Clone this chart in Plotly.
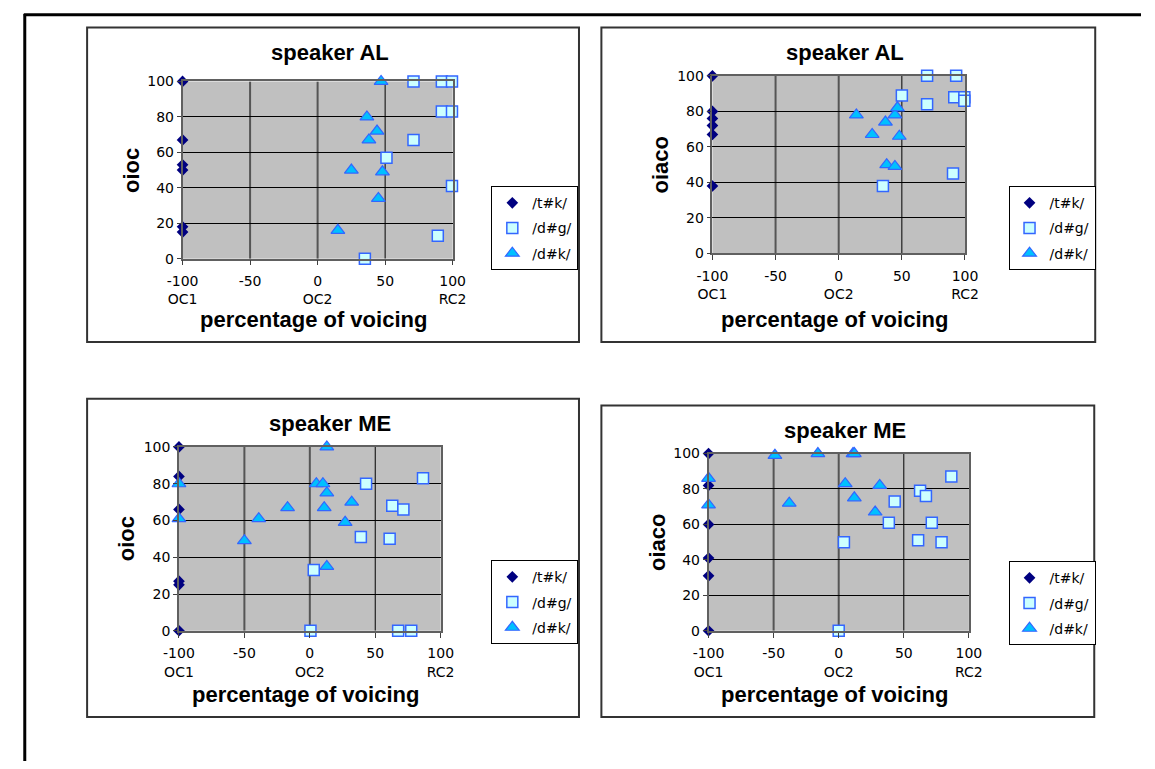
import plotly.graph_objects as go

W, H = 1155, 769

# x tick labels shared by all four panels
x_tickvals = [-100, -50, 0, 50, 100]
x_ticktext = ["-100<br>OC1", "-50", "0<br>OC2", "50", "100<br>RC2"]
y_tickvals = [0, 20, 40, 60, 80, 100]
series_names = ["/t#k/", "/d#g/", "/d#k/"]

# speaker AL, oioc
al_oioc_tk_x = [-100, -100, -100, -100, -100, -100]
al_oioc_tk_y = [100, 67, 53, 50, 18, 15]
al_oioc_dg_x = [71, 92, 99.5, 92, 99.5, 71, 51, 99.5, 89, 35]
al_oioc_dg_y = [100, 100, 100, 83, 83, 67, 57, 41, 13, 0]
al_oioc_dk_x = [47, 36.5, 44, 38, 25, 48, 45, 15]
al_oioc_dk_y = [100, 80, 72, 67, 50, 49, 34, 16]

# speaker AL, oiaco
al_oiaco_tk_x = [-100, -100, -100, -100, -100, -100]
al_oiaco_tk_y = [100, 80, 76, 72, 67, 38]
al_oiaco_dg_x = [70, 93, 50, 70, 91.5, 99.5, 99.5, 90.5, 35]
al_oiaco_dg_y = [100, 100, 89, 84, 88, 88, 86, 45, 38]
al_oiaco_dk_x = [14, 37, 44.5, 46.5, 26.5, 48, 38, 44.5]
al_oiaco_dk_y = [78, 74, 78, 82, 67, 66, 50, 49]

# speaker ME, oioc
me_oioc_tk_x = [-100, -100, -100, -100, -100, -100]
me_oioc_tk_y = [100, 84, 66, 27, 25, 0]
me_oioc_dg_x = [3, 0.5, 43, 39, 63, 71.5, 61, 86.5, 67.5, 77.5]
me_oioc_dg_y = [33, 0, 80, 51, 68, 66, 50, 83, 0, 0]
me_oioc_dk_x = [-100, -100, 13, 5, 10, 13, 11, -17, -39, -50, 32, 27, 13]
me_oioc_dk_y = [80, 61, 100, 80, 80, 75, 67, 67, 61, 49, 70, 59, 35]

# speaker ME, oiaco
me_oiaco_tk_x = [-100, -100, -100, -100, -100, -100]
me_oiaco_tk_y = [100, 82, 60, 41, 31, 0]
me_oiaco_dg_x = [0, 4, 43, 38.5, 62.5, 67, 86.5, 71.5, 61, 79]
me_oiaco_dg_y = [0, 50, 73, 61, 79, 76, 87, 61, 51, 50]
me_oiaco_dk_x = [-100, -100, -49, -16, 11, 12, 5, 31.5, -38, 12, 28]
me_oiaco_dk_y = [86, 71, 99, 100, 100, 100, 83, 82, 72, 75, 67]

FONT = "DejaVu Sans"
BOLD = "Liberation Sans, Arial, sans-serif"


def px(x):
    return x / W


def py(y):
    return 1 - y / H


panels = [
    dict(title="speaker AL", ytitle="oioc",
         plot=(171, 448.3, 75, 256), box=(73, 578, 20, 341), legend=(488, 182),
         data=[(al_oioc_tk_x, al_oioc_tk_y), (al_oioc_dg_x, al_oioc_dg_y),
               (al_oioc_dk_x, al_oioc_dk_y)]),
    dict(title="speaker AL", ytitle="oiaco",
         plot=(715, 974.3, 69.3, 250.7), box=(601, 1108, 20, 341), legend=(1019, 182),
         data=[(al_oiaco_tk_x, al_oiaco_tk_y), (al_oiaco_dg_x, al_oiaco_dg_y),
               (al_oiaco_dk_x, al_oiaco_dk_y)]),
    dict(title="speaker ME", ytitle="oioc",
         plot=(167.3, 436, 448.3, 636), box=(73, 578, 399, 724), legend=(488, 564),
         data=[(me_oioc_tk_x, me_oioc_tk_y), (me_oioc_dg_x, me_oioc_dg_y),
               (me_oioc_dk_x, me_oioc_dk_y)]),
    dict(title="speaker ME", ytitle="oiaco",
         plot=(711, 978.3, 455, 636), box=(601, 1107, 406, 724), legend=(1019, 565),
         data=[(me_oiaco_tk_x, me_oiaco_tk_y), (me_oiaco_dg_x, me_oiaco_dg_y),
               (me_oiaco_dk_x, me_oiaco_dk_y)]),
]

marker_styles = [
    dict(symbol="diamond", size=9, color="#000080", line=dict(width=0)),
    dict(symbol="square", size=11, color="#CCFFFF", line=dict(width=1.5, color="#3366FF")),
    dict(symbol="triangle-up", size=12, color="#00C0FF", line=dict(width=1.2, color="#3366FF")),
]

fig = go.Figure()
layout = dict(
    width=W, height=H, margin=dict(l=0, r=0, t=0, b=0),
    paper_bgcolor="white", plot_bgcolor="#C0C0C0",
    showlegend=True, shapes=[], annotations=[],
)

for i, p in enumerate(panels):
    n = "" if i == 0 else str(i + 1)
    xa, ya = "x" + n, "y" + n
    leg = "legend" + n
    x0, x1, y0, y1 = p["plot"]

    for k, ((xs, ys), name, mk) in enumerate(zip(p["data"], series_names, marker_styles)):
        fig.add_trace(go.Scatter(
            x=xs, y=ys, mode="markers", name=name, marker=mk,
            xaxis=xa, yaxis=ya, legend=leg, legendgroup=f"{i}-{k}",
            cliponaxis=False,
        ))

    layout["xaxis" + n] = dict(
        domain=[px(x0), px(x1)], anchor=ya, range=[-100, 100],
        tickvals=x_tickvals, ticktext=x_ticktext, showgrid=False, zeroline=False,
        showline=True, linecolor="#606060", linewidth=1.5, mirror=True,
        ticks="outside", ticklen=5, tickcolor="#404040",
        tickfont=dict(family=FONT, size=14, color="black"), ticklabelstandoff=4,
    )
    layout["yaxis" + n] = dict(
        domain=[py(y1), py(y0)], anchor=xa, range=[0, 100],
        tickvals=y_tickvals, showgrid=True, gridcolor="black", gridwidth=1,
        zeroline=False, showline=True, linecolor="#606060", linewidth=1.5, mirror=True,
        ticks="outside", ticklen=4, tickcolor="#404040",
        tickfont=dict(family=FONT, size=14, color="black"),
    )

    # vertical grid lines
    for gx, col, wd in [(-50, "#555555", 2), (0, "#555555", 2), (50, "black", 1)]:
        layout["shapes"].append(dict(
            type="line", xref=xa, yref=ya, x0=gx, x1=gx, y0=0, y1=100,
            line=dict(color=col, width=wd), layer="below"))

    bx0, bx1, by0, by1 = p["box"]
    layout["shapes"].append(dict(
        type="rect", xref="paper", yref="paper", x0=px(bx0), x1=px(bx1),
        y0=py(by1), y1=py(by0), line=dict(color="#333333", width=2)))

    layout["annotations"] += [
        dict(text=f"<b>{p['title']}</b>", xref="paper", yref="paper",
             x=px((bx0 + bx1) / 2 - 3), y=py(by0 + 25), showarrow=False,
             xanchor="center", yanchor="middle",
             font=dict(family=BOLD, size=22, color="black")),
        dict(text="<b>percentage of voicing</b>", xref="paper", yref="paper",
             x=px((x0 + x1) / 2 - 4), y=py(by1 - 23), showarrow=False,
             xanchor="center", yanchor="middle",
             font=dict(family=BOLD, size=22, color="black")),
        dict(text=f"<b>{p['ytitle']}</b>", xref="paper", yref="paper",
             x=px(x0 - 53), y=py((y0 + y1) / 2), showarrow=False, textangle=-90,
             xanchor="center", yanchor="middle",
             font=dict(family=BOLD, size=22, color="black")),
    ]

    lx, ly = p["legend"]
    layout[leg] = dict(
        x=px(lx), y=py(ly), xanchor="left", yanchor="top",
        bgcolor="white", bordercolor="black", borderwidth=1,
        font=dict(family=FONT, size=14, color="black"),
        traceorder="grouped", tracegroupgap=4,
    )

# page frame along the top and left
layout["shapes"] += [
    dict(type="line", xref="paper", yref="paper", x0=px(8), x1=1, y0=py(7), y1=py(7),
         line=dict(color="black", width=3)),
    dict(type="line", xref="paper", yref="paper", x0=px(9), x1=px(9), y0=0, y1=py(6),
         line=dict(color="black", width=3)),
]

fig.update_layout(**layout)
fig.write_html(
    "out.html",
    post_script="document.body.style.margin='0';document.body.style.overflow='hidden';",
)
